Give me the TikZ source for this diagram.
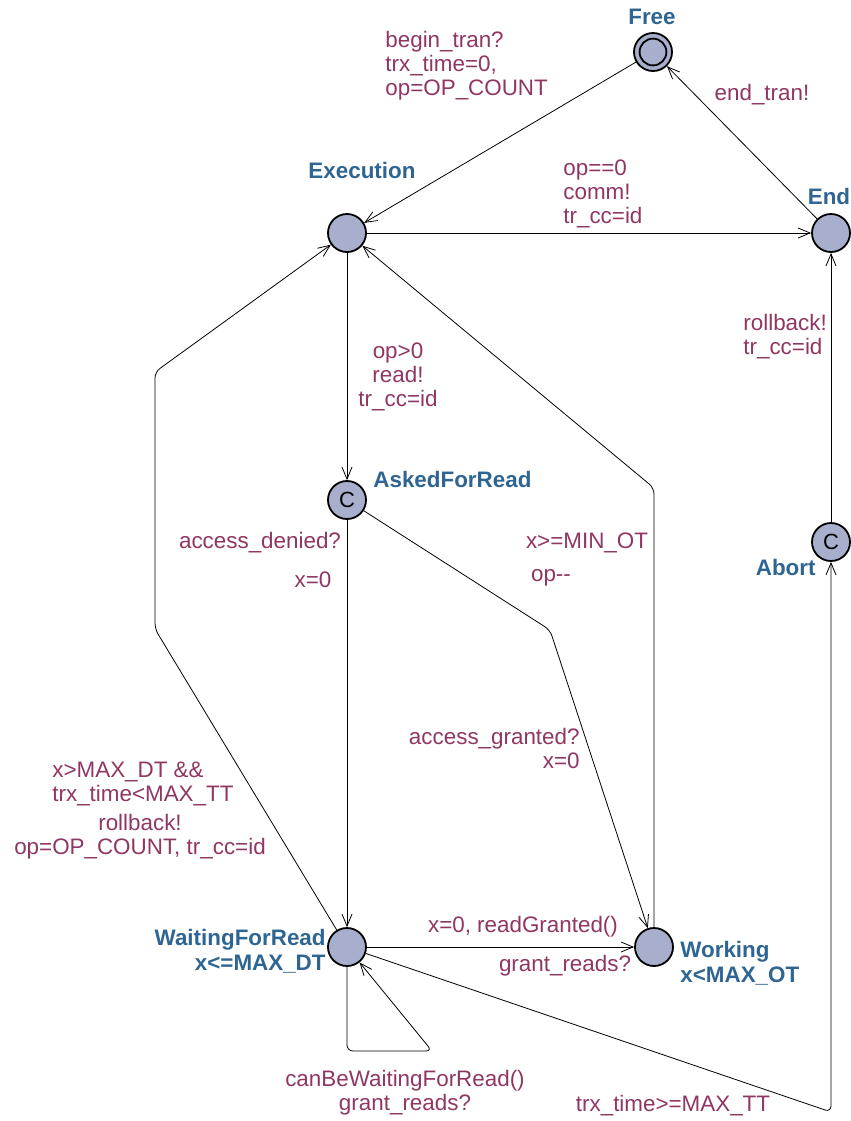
\documentclass[tikz,border=0pt]{standalone}
\usepackage{fontspec}
\setmainfont{Liberation Sans}
\usetikzlibrary{arrows.meta}

\definecolor{locfill}{HTML}{A7AFCD}
\definecolor{locname}{HTML}{2F6592}
\definecolor{lblcolor}{HTML}{8F3662}

\begin{document}
\begin{tikzpicture}[x=0.5pt,y=-0.5pt,->,>={Straight Barb[length=6pt,width=5pt]},
    thin,rounded corners=3pt,
    location/.style={circle,draw,line width=0.9pt,fill=locfill,minimum size=19pt,
        inner sep=0pt,font=\fontsize{11}{12}\selectfont},
    loc name/.style={text=locname,inner sep=0pt,font=\bfseries\fontsize{11.2}{12.5}\selectfont},
    trans label/.style={text=lblcolor,inner sep=0pt,font=\fontsize{11.2}{12}\selectfont}]

\useasboundingbox (0,0) rectangle (851,1121);

% locations
\node[location] (free) at (653,52) {};
\node[location] (exec) at (347,233) {};
\node[location] (end) at (831,233) {};
\node[location] (asked) at (347,500) {C};
\node[location] (abort) at (831,542) {C};
\node[location] (wait) at (347,947) {};
\node[location] (work) at (654,947) {};
\draw[-,line width=0.9pt] (free) circle (6.7pt);

% location names and invariants
\node[loc name] (freeName) at (652,17) {Free};
\node[loc name] (execName) at (362,170) {Execution};
\node[loc name] (endName) at (829,196) {End};
\node[loc name,anchor=west] (askedName) at (373,479) {AskedForRead};
\node[loc name,anchor=east] (abortName) at (816,567) {Abort};
\node[loc name,anchor=east,align=right] (waitName) at (326,951) {WaitingForRead\\x<=MAX\_DT};
\node[loc name,anchor=west,align=left] (workName) at (680,963) {Working\\x<MAX\_OT};

% bends
\coordinate (grantBend) at (550,630);
\coordinate (opBend) at (654,488);
\coordinate (rbLow) at (155,629);
\coordinate (rbHigh) at (155,372);
\coordinate (loopA) at (347,1051);
\coordinate (loopB) at (432,1051);
\coordinate (ttBend) at (831,1112);

% transitions
\draw (free) -- (exec);
\draw (end) -- (free);
\draw (exec) -- (end);
\draw (exec) -- (asked);
\draw (asked) -- (wait);
\draw (asked) -- (grantBend) -- (work);
\draw (work) -- (opBend) -- (exec);
\draw (wait) -- (rbLow) -- (rbHigh) -- (exec);
\draw (wait) -- (work);
\draw (wait) -- (loopA) -- (loopB) -- (wait);
\draw (wait) -- (ttBend) -- (abort);
\draw (abort) -- (end);

% guards, syncs and updates
\node[trans label,anchor=west,align=left] (beginLbl) at (385,66) {begin\_tran?\\trx\_time=0,\\op=OP\_COUNT};
\node[trans label] (endTranLbl) at (762,95) {end\_tran!};
\node[trans label,anchor=west,align=left] (commLbl) at (563,194) {op==0\\comm!\\tr\_cc=id};
\node[trans label,align=center] (readLbl) at (398,377) {op>0\\read!\\tr\_cc=id};
\node[trans label] (deniedLbl) at (260,543) {access\_denied?};
\node[trans label] (deniedUpd) at (313,580) {x=0};
\node[trans label] (minLbl) at (587,543) {x>=MIN\_OT};
\node[trans label] (minUpd) at (551,578) {op-{}-};
\node[trans label,anchor=east,align=right] (grantedLbl) at (580,748) {access\_granted?\\x=0};
\node[trans label,anchor=west,align=left] (maxLbl) at (52,784) {x>MAX\_DT \&\&\\trx\_time<MAX\_TT};
\node[trans label,align=center] (rbLbl) at (140,837) {rollback!\\op=OP\_COUNT, tr\_cc=id};
\node[trans label] (readyLbl) at (523,927) {x=0, readGranted()};
\node[trans label] (grantLbl) at (565,966) {grant\_reads?};
\node[trans label,align=center] (loopLbl) at (405,1093) {canBeWaitingForRead()\\grant\_reads?};
\node[trans label] (ttLbl) at (673,1106) {trx\_time>=MAX\_TT};
\node[trans label,anchor=west,align=left] (abortLbl) at (743,337) {rollback!\\tr\_cc=id};

\end{tikzpicture}
\end{document}
